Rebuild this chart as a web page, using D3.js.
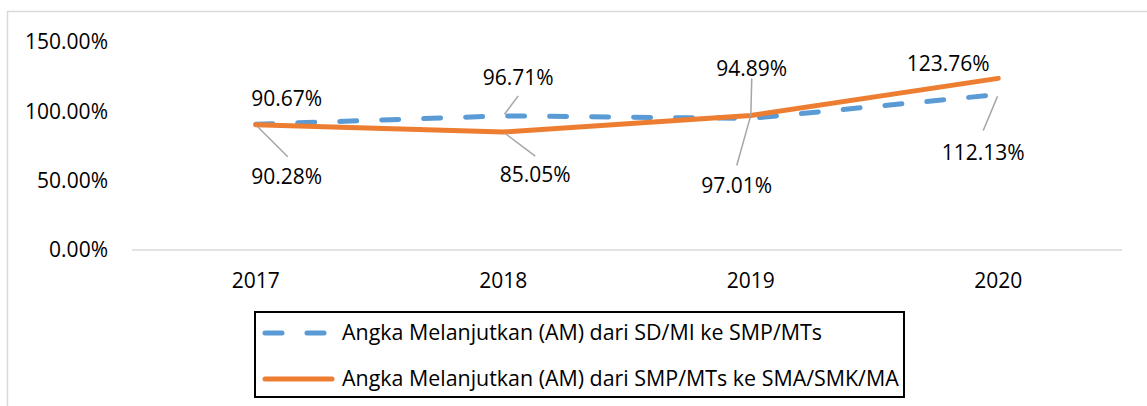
<!DOCTYPE html>
<html>
<head>
<meta charset="utf-8">
<script src="https://cdn.jsdelivr.net/npm/d3@7"></script>
<style>
  html, body { margin: 0; padding: 0; background: #fff; }
  svg { display: block; font-family: "Open Sans", "Liberation Sans", Arial, sans-serif; }
</style>
</head>
<body>
<svg id="chart" width="1147" height="406"></svg>
<script>
// data
var years = ["2017", "2018", "2019", "2020"];
var amSD = [90.67, 96.71, 94.89, 112.13];   // SD/MI ke SMP/MTs
var amSMP = [90.28, 85.05, 97.01, 123.76];  // SMP/MTs ke SMA/SMK/MA
var yTicks = [0, 50, 100, 150];
var seriesNames = [
  "Angka Melanjutkan (AM) dari SD/MI ke SMP/MTs",
  "Angka Melanjutkan (AM) dari SMP/MTs ke SMA/SMK/MA"
];

// label placement (layout only): offset of label centre from the point,
// and where the leader line starts relative to the label centre (null = none)
var sdLabels = [
  {dx: 31, dy: -26, lead: null},
  {dx: 15, dy: -38, lead: [0, 18]},
  {dx: 1, dy: -50, lead: [0, 10]},
  {dx: -15, dy: 58, lead: [0, -22]}
];
var smpLabels = [
  {dx: 31, dy: 52, lead: [1, -20]},
  {dx: 32, dy: 43, lead: [0, -19]},
  {dx: -14, dy: 70, lead: [0, -20]},
  {dx: -50, dy: -15, lead: null}
];

var blue = "#5B9BD5", orange = "#ED7D31";
var fs = 21;
var fmt = d => d.toFixed(2) + "%";

var svg = d3.select("#chart");

// chart area border (only top/left visible in the crop)
svg.append("rect")
  .attr("x", 7.5).attr("y", 11.5)
  .attr("width", 1300).attr("height", 500)
  .attr("fill", "none")
  .attr("stroke", "#D9D9D9")
  .attr("stroke-width", 1.5);

var x = d3.scaleBand().domain(years).range([132, 1122]);
var y = d3.scaleLinear().domain([0, 150]).range([250, 42]);

// y axis labels
svg.append("g")
  .selectAll("text")
  .data(yTicks)
  .join("text")
  .attr("x", 108)
  .attr("y", d => y(d))
  .attr("dy", "0.35em")
  .attr("text-anchor", "end")
  .attr("font-size", fs)
  .attr("fill", "#000")
  .text(d => d.toFixed(2) + "%");

// baseline
svg.append("line")
  .attr("x1", 132).attr("x2", 1122)
  .attr("y1", y(0)).attr("y2", y(0))
  .attr("stroke", "#D9D9D9")
  .attr("stroke-width", 1.5);

// x axis labels
svg.append("g")
  .selectAll("text")
  .data(years)
  .join("text")
  .attr("x", d => x(d) + x.bandwidth() / 2)
  .attr("y", 281)
  .attr("dy", "0.35em")
  .attr("text-anchor", "middle")
  .attr("font-size", fs)
  .attr("fill", "#000")
  .text(d => d);

var line = d3.line()
  .x((d, i) => x(years[i]) + x.bandwidth() / 2)
  .y(d => y(d));

svg.append("path")
  .datum(amSD)
  .attr("d", line)
  .attr("fill", "none")
  .attr("stroke", blue)
  .attr("stroke-width", 5)
  .attr("stroke-linecap", "round")
  .attr("stroke-dasharray", "17,25");

svg.append("path")
  .datum(amSMP)
  .attr("d", line)
  .attr("fill", "none")
  .attr("stroke", orange)
  .attr("stroke-width", 5)
  .attr("stroke-linecap", "round")
  .attr("stroke-linejoin", "round");

function drawLabels(values, layout) {
  var g = svg.append("g");
  values.forEach(function (v, i) {
    var px = x(years[i]) + x.bandwidth() / 2;
    var py = y(v);
    var L = layout[i];
    var lx = px + L.dx, ly = py + L.dy;
    if (L.lead) {
      var sx = lx + L.lead[0], sy = ly + L.lead[1];
      var ang = Math.atan2(py - sy, px - sx);
      g.append("line")
        .attr("x1", sx).attr("y1", sy)
        .attr("x2", px - Math.cos(ang) * 2).attr("y2", py - Math.sin(ang) * 2)
        .attr("stroke", "#A6A6A6")
        .attr("stroke-width", 1.5);
    }
    g.append("text")
      .attr("x", lx).attr("y", ly)
      .attr("dy", "0.35em")
      .attr("text-anchor", "middle")
      .attr("font-size", fs)
      .attr("fill", "#000")
      .text(fmt(v));
  });
}
drawLabels(amSD, sdLabels);
drawLabels(amSMP, smpLabels);

// legend
var lg = svg.append("g");
svg.append("clipPath").attr("id", "legclip")
  .append("rect").attr("x", 255).attr("y", 312).attr("width", 649).attr("height", 85);

lg.append("rect")
  .attr("x", 255).attr("y", 312)
  .attr("width", 649).attr("height", 85)
  .attr("fill", "#fff")
  .attr("stroke", "#000")
  .attr("stroke-width", 2);

var rows = [
  {name: seriesNames[0], color: blue, dash: "17,25", yy: 333},
  {name: seriesNames[1], color: orange, dash: null, yy: 379}
];
var texts = [];
rows.forEach(function (r) {
  lg.append("line")
    .attr("x1", 265).attr("x2", r.dash ? 330 : 332)
    .attr("y1", r.yy).attr("y2", r.yy)
    .attr("stroke", r.color)
    .attr("stroke-width", 5)
    .attr("stroke-linecap", "round")
    .attr("stroke-dasharray", r.dash);
  var t = lg.append("text")
    .attr("clip-path", "url(#legclip)")
    .attr("x", 342).attr("y", r.yy)
    .attr("dy", "0.35em")
    .attr("font-size", fs)
    .attr("fill", "#000")
    .text(r.name);
  texts.push(t);
});
// the original font is narrower: squeeze both rows by the same factor
var k = 480 / texts[0].node().getComputedTextLength();
texts.forEach(function (t) {
  var w = t.node().getComputedTextLength();
  t.attr("textLength", w * k).attr("lengthAdjust", "spacingAndGlyphs");
});
</script>
</body>
</html>
